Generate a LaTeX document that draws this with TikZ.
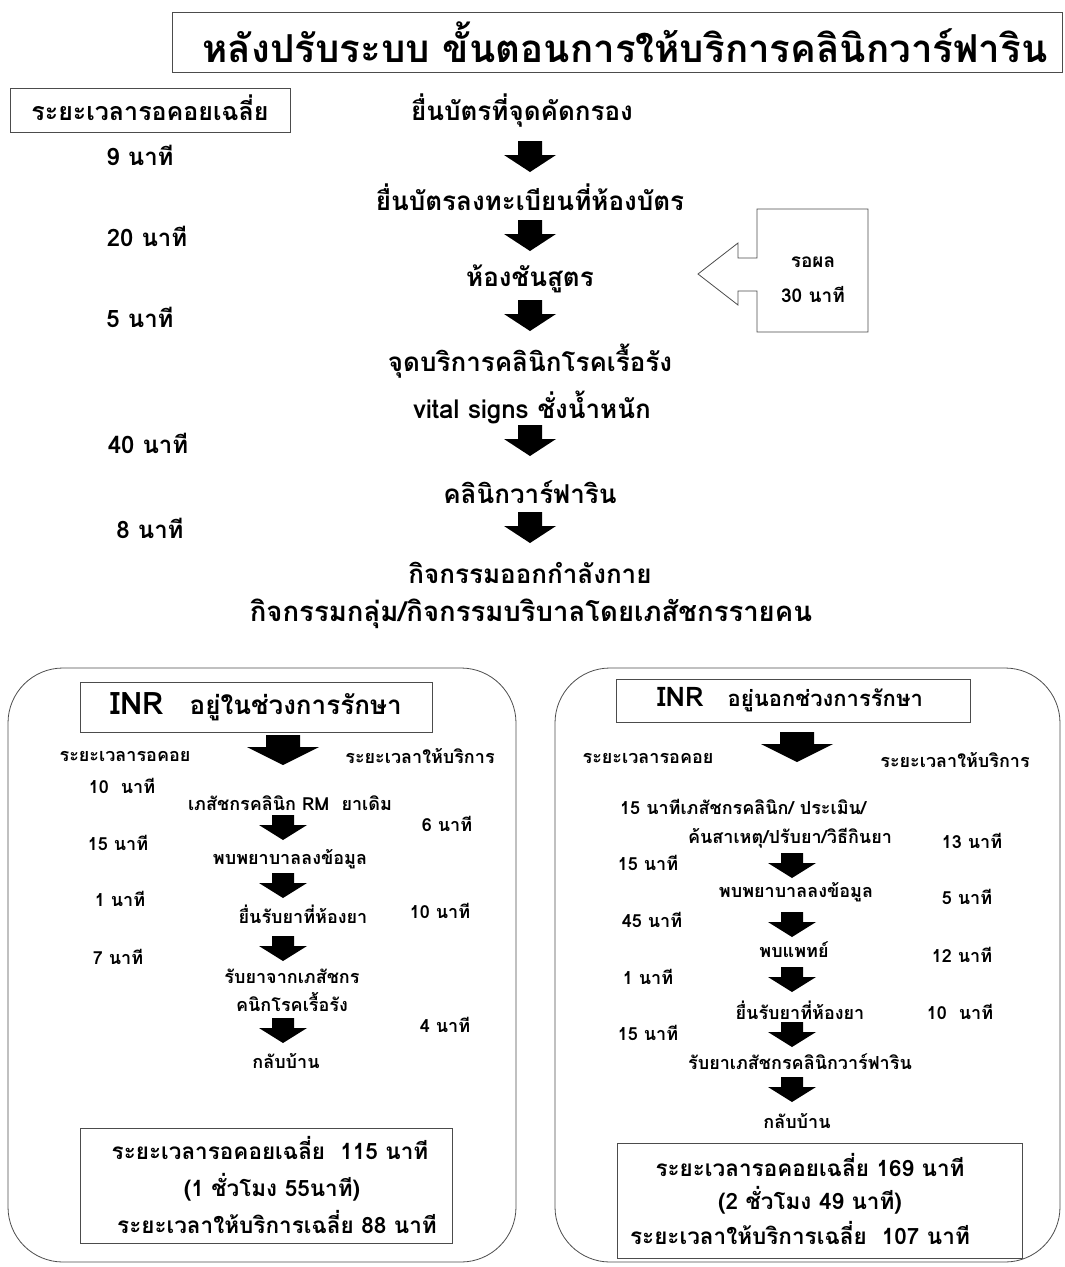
\documentclass[tikz,border=0pt]{standalone}
\usepackage{fontspec}
\newfontfamily\thai[Script=Thai]{Loma}
\begin{document}
\begin{tikzpicture}[x=1pt,y=-1pt,
  every node/.style={font=\thai, inner sep=0pt},
  mainf/.style={font=\thai\bfseries\fontsize{26}{28}\selectfont},
  timef/.style={font=\thai\bfseries\fontsize{24}{26}\selectfont},
  smallf/.style={font=\thai\bfseries\fontsize{18}{20}\selectfont},
  sumf/.style={font=\thai\bfseries\fontsize{22.5}{24}\selectfont},
  calf/.style={font=\thai\bfseries\fontsize{19}{21}\selectfont},
  boxline/.style={draw=black!70, line width=0.8pt},
  darr/.pic={\fill (-12,0) -- (12,0) -- (12,14) -- (26,14) -- (0,31) -- (-26,14) -- (-12,14) -- cycle;},
  sarr/.pic={\fill (-11,0) -- (11,0) -- (11,10) -- (24,10) -- (0,25) -- (-24,10) -- (-11,10) -- cycle;},
  warr/.pic={\fill (-17,0) -- (17,0) -- (17,12) -- (36,12) -- (0,30) -- (-36,12) -- (-17,12) -- cycle;}
]
\useasboundingbox (0,0) rectangle (1065,1267);
% title
\draw[boxline] (172,12) rectangle (1062,72);
\node[font=\thai\bfseries\fontsize{38.5}{42}\selectfont] (title) at (625,42) {หลังปรับระบบ ขั้นตอนการให้บริการคลินิกวาร์ฟาริน};
\draw[boxline] (10,88) rectangle (290,132);
\node[font=\thai\bfseries\fontsize{25}{27}\selectfont] (avg) at (150,108) {ระยะเวลารอคอยเฉลี่ย};
% main flow
\node[mainf] (s1) at (522,111) {ยื่นบัตรที่จุดคัดกรอง};
\node[timef] (t1) at (140,155) {9 นาที};
\pic at (530,141) {darr};
\node[mainf] (s2) at (530,197) {ยื่นบัตรลงทะเบียนที่ห้องบัตร};
\node[timef] (t2) at (147,236) {20 นาที};
\pic at (530,220) {darr};
\node[mainf] (s3) at (530,279) {ห้องชันสูตร};
\node[timef] (t3) at (140,317) {5 นาที};
\pic at (530,300) {darr};
\node[mainf] (s4) at (530,361) {จุดบริการคลินิกโรคเรื้อรัง};
\node[mainf] (s4b) at (532,407) {vital signs ชั่งน้ำหนัก};
\node[timef] (t4) at (148,443) {40 นาที};
\pic at (530,425) {darr};
\node[mainf] (s5) at (530,492) {คลินิกวาร์ฟาริน};
\node[timef] (t5) at (150,528) {8 นาที};
\pic at (530,512) {darr};
\node[mainf] (s6) at (530,573) {กิจกรรมออกกำลังกาย};
\node[mainf, font=\thai\bfseries\fontsize{27.5}{30}\selectfont] (s7) at (531,614) {กิจกรรมกลุ่ม/กิจกรรมบริบาลโดยเภสัชกรรายคน};
% callout
\draw[boxline, fill=white] (757,209) -- (868,209) -- (868,332) -- (757,332) -- (757,291) -- (738,291) -- (738,305) -- (698,274) -- (738,243) -- (738,258) -- (757,258) -- cycle;
\node[calf] (wait) at (813,262) {รอผล};
\node[calf] (wait2) at (813,295) {30 นาที};
% left box
\draw[boxline, rounded corners=55] (8,668) rectangle (516,1262);
\draw[boxline] (80,682) rectangle (432,732);
\node (lh) at (256,707) {\fontsize{31}{33}\selectfont\bfseries INR\hspace{26pt}\fontsize{26}{28}\selectfont อยู่ในช่วงการรักษา};
\pic at (283,735) {warr};
\node[smallf] (lwl) at (125,756) {ระยะเวลารอคอย};
\node[smallf] (lsl) at (420,756) {ระยะเวลาให้บริการ};
\node[smallf] (lw1) at (122,786) {10\ \ นาที};
\node[smallf] (l1) at (290,803) {เภสัชกรคลินิก RM\ \ ยาเดิม};
\pic at (283,815) {sarr};
\node[smallf] (ls1) at (447,824) {6 นาที};
\node[smallf] (lw2) at (118,843) {15 นาที};
\node[smallf] (l2) at (290,859) {พบพยาบาลลงข้อมูล};
\pic at (283,873) {sarr};
\node[smallf] (lw3) at (120,899) {1 นาที};
\node[smallf] (l3) at (303,914) {ยื่นรับยาที่ห้องยา};
\node[smallf] (ls3) at (440,911) {10 นาที};
\pic at (283,936) {sarr};
\node[smallf] (lw4) at (118,957) {7 นาที};
\node[smallf] (l4) at (292,976) {รับยาจากเภสัชกร};
\node[smallf] (l4b) at (292,1002) {คนิกโรคเรื้อรัง};
\node[smallf] (ls4) at (445,1025) {4 นาที};
\pic at (283,1018) {sarr};
\node[smallf] (l5) at (286,1061) {กลับบ้าน};
\draw[boxline] (80,1128) rectangle (452,1243);
\node[sumf] (lsum1) at (270,1148) {ระยะเวลารอคอยเฉลี่ย\ \ 115 นาที};
\node[sumf] (lsum2) at (272,1187) {(1 ชั่วโมง 55นาที)};
\node[sumf] (lsum3) at (277,1222) {ระยะเวลาให้บริการเฉลี่ย 88 นาที};
% right box
\draw[boxline, rounded corners=55] (555,668) rectangle (1060,1262);
\draw[boxline] (616,679) rectangle (970,722);
\node (rh) at (790,700) {\fontsize{27}{29}\selectfont\bfseries INR\hspace{24pt}\fontsize{22}{24}\selectfont อยู่นอกช่วงการรักษา};
\pic at (797,732) {warr};
\node[smallf] (rwl) at (648,758) {ระยะเวลารอคอย};
\node[smallf] (rsl) at (955,760) {ระยะเวลาให้บริการ};
\node[smallf, anchor=west] (r1) at (620,807) {15 นาทีเภสัชกรคลินิก/ ประเมิน/};
\node[smallf] (r1b) at (790,838) {ค้นสาเหตุ/ปรับยา/วิธีกินยา};
\node[smallf] (rs1) at (972,841) {13 นาที};
\node[smallf] (rw2) at (648,863) {15 นาที};
\pic at (792,853) {sarr};
\node[smallf] (r2) at (796,892) {พบพยาบาลลงข้อมูล};
\node[smallf] (rs2) at (967,897) {5 นาที};
\node[smallf] (rw3) at (652,920) {45 นาที};
\pic at (792,912) {sarr};
\node[smallf] (r3) at (794,950) {พบแพทย์};
\node[smallf] (rs3) at (962,955) {12 นาที};
\node[smallf] (rw4) at (648,977) {1 นาที};
\pic at (792,967) {sarr};
\node[smallf] (r4) at (800,1010) {ยื่นรับยาที่ห้องยา};
\node[smallf] (rs4) at (960,1012) {10\ \ นาที};
\node[smallf] (rw5) at (648,1033) {15 นาที};
\pic at (792,1022) {sarr};
\node[smallf] (r5) at (800,1062) {รับยาเภสัชกรคลินิกวาร์ฟาริน};
\pic at (792,1077) {sarr};
\node[smallf] (r6) at (797,1121) {กลับบ้าน};
\draw[boxline] (617,1143) rectangle (1022,1258);
\node[sumf] (rsum1) at (810,1165) {ระยะเวลารอคอยเฉลี่ย 169 นาที};
\node[sumf] (rsum2) at (810,1200) {(2 ชั่วโมง 49 นาที)};
\node[sumf] (rsum3) at (800,1233) {ระยะเวลาให้บริการเฉลี่ย\ \ 107 นาที};
\end{tikzpicture}
\end{document}
